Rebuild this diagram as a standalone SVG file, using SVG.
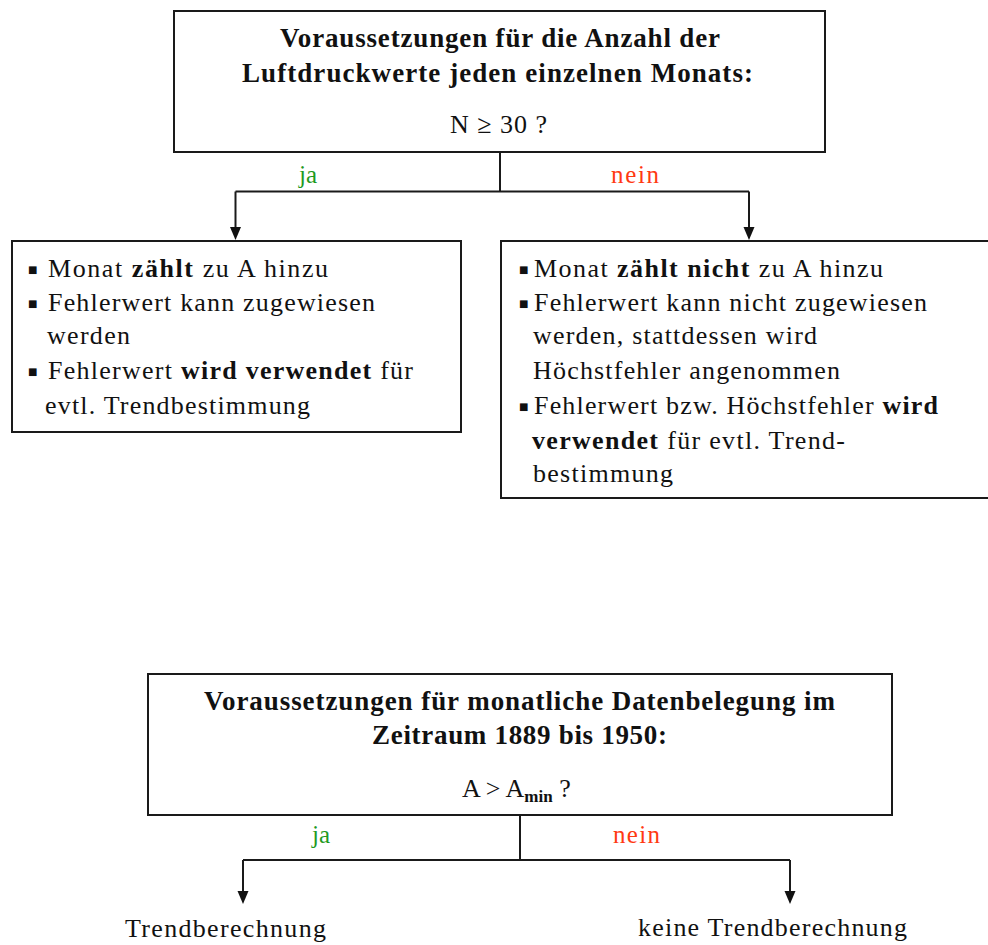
<svg xmlns="http://www.w3.org/2000/svg" width="988" height="945" viewBox="0 0 988 945">
<style>
  .box{fill:#fff;stroke:#1a1a1a;stroke-width:2}
  .ln{fill:none;stroke:#1a1a1a;stroke-width:2}
  .t{font-family:"Liberation Serif","Times New Roman",serif;font-size:26px;fill:#111}
  .h{font-family:"Liberation Serif","Times New Roman",serif;font-size:27px;font-weight:bold;fill:#111}
  .b{font-weight:bold}
  .bul{font-family:"DejaVu Sans",sans-serif;font-size:10px;fill:#111}
  .ja{font-family:"Liberation Serif",serif;font-size:25px;fill:#1f9a1f}
  .nein{font-family:"Liberation Serif",serif;font-size:25px;fill:#ff3a12}
</style>
<rect width="988" height="945" fill="#fff"/>

<g id="connectors">
  <path class="ln" d="M500,152 V191.5"/>
  <path class="ln" d="M235.5,191.5 H749"/>
  <path class="ln" d="M235.5,191.5 V228"/>
  <path class="ln" d="M749,191.5 V228"/>
  <path d="M230,227 L241,227 L235.5,240 Z" fill="#111"/>
  <path d="M743.5,227 L754.5,227 L749,240 Z" fill="#111"/>
  <text class="ja" x="299" y="183">ja</text>
  <text class="nein" x="611" y="183" textLength="48">nein</text>

  <path class="ln" d="M520,815 V860"/>
  <path class="ln" d="M243,860 H790"/>
  <path class="ln" d="M243,860 V892"/>
  <path class="ln" d="M790,860 V892"/>
  <path d="M237.5,891 L248.5,891 L243,904 Z" fill="#111"/>
  <path d="M784.5,891 L795.5,891 L790,904 Z" fill="#111"/>
  <text class="ja" x="312" y="843">ja</text>
  <text class="nein" x="613" y="843" textLength="47">nein</text>
</g>

<g id="node-top">
  <rect class="box" x="174" y="11" width="651" height="141"/>
  <text class="h" x="280" y="47" textLength="440">Voraussetzungen für die Anzahl der</text>
  <text class="h" x="242" y="82" textLength="511">Luftdruckwerte  jeden einzelnen Monats:</text>
  <text class="t" x="450" y="133" textLength="97">N ≥ 30 ?</text>
</g>

<g id="node-ja">
  <rect class="box" x="12" y="241" width="449" height="191"/>
  <text class="bul" x="28" y="273">■</text>
  <text class="t" x="48" y="277" textLength="280">Monat <tspan class="b">zählt</tspan> zu A hinzu</text>
  <text class="bul" x="28" y="307">■</text>
  <text class="t" x="48" y="311" textLength="327">Fehlerwert kann zugewiesen</text>
  <text class="t" x="47" y="344" textLength="83">werden</text>
  <text class="bul" x="28" y="375">■</text>
  <text class="t" x="48" y="379" textLength="365">Fehlerwert <tspan class="b">wird verwendet</tspan> für</text>
  <text class="t" x="45" y="414" textLength="265">evtl. Trendbestimmung</text>
</g>

<g id="node-nein">
  <rect class="box" x="501" y="241" width="495" height="257"/>
  <text class="bul" x="519" y="273">■</text>
  <text class="t" x="534" y="277" textLength="349">Monat <tspan class="b">zählt nicht</tspan> zu A hinzu</text>
  <text class="bul" x="519" y="307">■</text>
  <text class="t" x="534" y="311" textLength="393">Fehlerwert kann nicht zugewiesen</text>
  <text class="t" x="533" y="344" textLength="284">werden, stattdessen wird</text>
  <text class="t" x="533" y="379" textLength="307">Höchstfehler angenommen</text>
  <text class="bul" x="519" y="410">■</text>
  <text class="t" x="534" y="414" textLength="404">Fehlerwert bzw. Höchstfehler <tspan class="b">wird</tspan></text>
  <text class="t" x="532" y="449" textLength="313"><tspan class="b">verwendet</tspan>  für evtl. Trend-</text>
  <text class="t" x="533" y="482" textLength="140">bestimmung</text>
</g>

<g id="node-bottom">
  <rect class="box" x="148" y="674" width="744" height="141"/>
  <text class="h" x="204" y="710" textLength="631">Voraussetzungen für monatliche Datenbelegung im</text>
  <text class="h" x="372" y="744" textLength="295">Zeitraum 1889 bis 1950:</text>
  <text class="t" x="462" y="797">A &gt; A<tspan font-size="17" dy="5" font-weight="bold">min</tspan><tspan dy="-5"> ?</tspan></text>
</g>

<g id="node-trend">
  <text class="t" x="125" y="937" textLength="201">Trendberechnung</text>
</g>
<g id="node-keine">
  <text class="t" x="638" y="936" textLength="269">keine Trendberechnung</text>
</g>
</svg>
